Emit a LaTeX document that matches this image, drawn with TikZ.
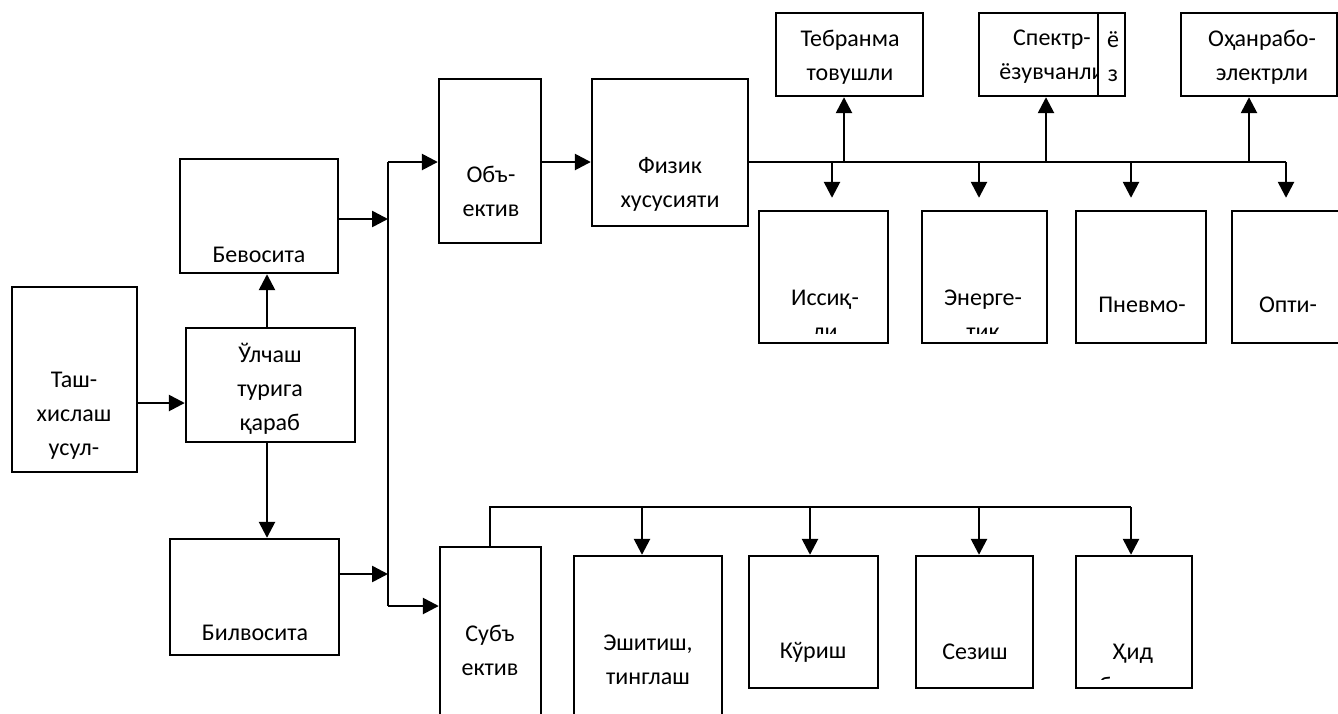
\documentclass[tikz,border=0pt]{standalone}
\usepackage{fontspec}
\setmainfont{Carlito}
\usetikzlibrary{arrows.meta}
\tikzset{
  box/.style={draw, line width=2.4pt, inner sep=0pt},
  txt/.style={font=\fontsize{24}{34}\selectfont, align=center, inner sep=0pt},
  arr/.style={line width=2.6pt, -{Triangle[length=16pt,width=16pt]}},
  ln/.style={line width=2.3pt},
}
\newcommand{\mybox}[5]{\node[box, minimum width={(#4)-(#2)}, minimum height={(#5)-(#3)}] (#1) at ({((#2)+(#4))/2},{((#3)+(#5))/2}) {};}
\begin{document}
\begin{tikzpicture}[x=1pt,y=-1pt]
\useasboundingbox (0,0) rectangle (1338,713);
% boxes
\mybox{tash}{12}{287}{137}{472}
\mybox{ulch}{186}{328}{355}{442}
\mybox{bev}{180}{159}{338}{273}
\mybox{bil}{170}{539}{339}{655}
\mybox{obj}{439}{79}{541}{243}
\mybox{fiz}{592}{79}{748}{226}
\mybox{teb}{776}{13}{923}{96}
\mybox{spk}{979}{13}{1125}{96}
\mybox{oxa}{1181}{13}{1337}{96}
\mybox{iss}{759}{211}{888}{343}
\mybox{ene}{922}{211}{1047}{343}
\mybox{pnv}{1076}{211}{1206}{343}
\mybox{opt}{1232}{211}{1348}{343}
\mybox{sub}{440}{547}{541}{725}
\mybox{esh}{574}{556}{722}{725}
\mybox{kur}{749}{556}{878}{688}
\mybox{sez}{916}{556}{1033}{688}
\mybox{hid}{1076}{556}{1192}{688}
\coordinate (div) at (1098,13);
\draw[ln] (div) -- (div |- spk.south);
% texts
\node[txt] (ttash) at (74,416) {Таш-\\хислаш\\усул-};
\node[txt] (tulch) at (270,389) {Ўлчаш\\турига\\қараб};
\node[txt] (tbev) at (259,255) {Бевосита};
\node[txt] (tbil) at (255,633) {Билвосита};
\node[txt] (tobj) at (491,191) {Объ-\\ектив};
\node[txt] (tfiz) at (670,184) {Физик\\хусусияти};
\node[txt] (tteb) at (850,57) {Тебранма\\товушли};
\begin{scope}
  \clip (979,13) rectangle (1097,96);
  \node[txt] (tspk) at (1052,57) {Спектр-\\ёзувчанли};
\end{scope}
\node[txt] (tspk2) at (1113,57) {ё\\з};
\node[txt] (toxa) at (1262,57) {Оҳанрабо-\\электрли};
\begin{scope}
  \clip (759,211) rectangle (888,333);
  \node[txt] (tiss) at (825,315) {Иссиқ-\\ли};
\end{scope}
\begin{scope}
  \clip (922,211) rectangle (1047,333);
  \node[txt] (tene) at (983,315) {Энерге-\\тик};
\end{scope}
\node[txt] (tpnv) at (1142,305) {Пневмо-};
\node[txt] (topt) at (1288,305) {Опти-};
\node[txt] (tsub) at (490,650) {Субъ\\ектив};
\node[txt] (tesh) at (648,660) {Эшитиш,\\тинглаш};
\node[txt] (tkur) at (813,652) {Кўриш};
\node[txt] (tsez) at (975,652) {Сезиш};
\begin{scope}
  \clip (1076,556) rectangle (1192,679);
  \node[txt] (thid) at (1133,669) {Ҳид\\билиш};
\end{scope}
% helper coordinates
\coordinate (y403) at (0,403);
\coordinate (x267) at (267,0);
\coordinate (y219) at (0,219);
\coordinate (y574) at (0,574);
\coordinate (busTop) at (388,162);
\coordinate (busBot) at (388,606);
\coordinate (hR) at (1286,162);
\coordinate (u1) at (844,162);
\coordinate (u2) at (1046,162);
\coordinate (u3) at (1249,162);
\coordinate (d1) at (832,162);
\coordinate (d2) at (979,162);
\coordinate (d3) at (1131,162);
\coordinate (bL) at (490,507);
\coordinate (bR) at (1131,507);
\coordinate (e1) at (642,507);
\coordinate (e2) at (810,507);
\coordinate (e3) at (979,507);
% connectors
\draw[arr] (tash.east |- y403) -- (ulch.west |- y403);
\draw[arr] (ulch.north -| x267) -- (bev.south -| x267);
\draw[arr] (ulch.south -| x267) -- (bil.north -| x267);
\draw[arr] (bev.east |- y219) -- (busTop |- y219);
\draw[arr] (bil.east |- y574) -- (busTop |- y574);
\draw[ln] (busTop) -- (busBot);
\draw[arr] (busTop) -- (obj.west |- busTop);
\draw[arr] (busBot) -- (sub.west |- busBot);
\draw[arr] (obj.east |- busTop) -- (fiz.west |- busTop);
\draw[ln] (fiz.east |- hR) -- (hR);
\draw[arr] (u1) -- (teb.south -| u1);
\draw[arr] (u2) -- (spk.south -| u2);
\draw[arr] (u3) -- (oxa.south -| u3);
\draw[arr, shorten >=12pt] (d1) -- (iss.north -| d1);
\draw[arr, shorten >=12pt] (d2) -- (ene.north -| d2);
\draw[arr, shorten >=12pt] (d3) -- (pnv.north -| d3);
\draw[arr, shorten >=12pt] (hR) -- (opt.north -| hR);
\draw[ln] (sub.north -| bL) -- (bL) -- (bR);
\draw[arr] (e1) -- (esh.north -| e1);
\draw[arr] (e2) -- (kur.north -| e2);
\draw[arr] (e3) -- (sez.north -| e3);
\draw[arr] (bR) -- (hid.north -| bR);
\end{tikzpicture}
\end{document}
